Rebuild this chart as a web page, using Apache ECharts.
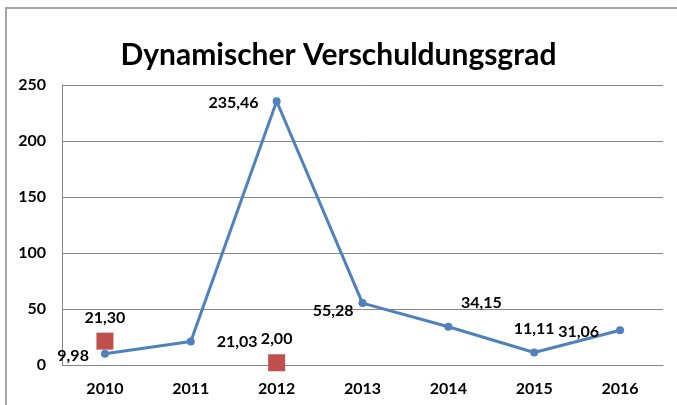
<!DOCTYPE html>
<html>
<head>
<meta charset="utf-8">
<script src="https://cdn.jsdelivr.net/npm/echarts@6/dist/echarts.min.js"></script>
<style>
    html, body { margin: 0; padding: 0; background: #fff; }
    #main { width: 677px; height: 405px; }
</style>
</head>
<body>
<div id="main"></div>
<script>
const YEARS = ['2010', '2011', '2012', '2013', '2014', '2015', '2016'];
const DEBT_RATIO = [9.98, 21.03, 235.46, 55.28, 34.15, 11.11, 31.06];
const EXTRA_YEARS = ['2010', '2012'];
const EXTRA_VALUES = [21.30, 2.00];

// label placement per point (like the excel chart, labels were dragged by hand)
const LABEL_PLACES = [
    {position: 'left', distance: 12, offset: [0, 2]},
    {position: 'right', distance: 22, offset: [0, 0]},
    {position: 'left', distance: 14, offset: [0, 2]},
    {position: 'left', distance: 5, offset: [0, 8]},
    {position: 'top', distance: 5, offset: [33, -7]},
    {position: 'top', distance: 5, offset: [0, -7]},
    {position: 'left', distance: 17, offset: [0, 2]},
];

const FONT = 'Lato, "Open Sans", sans-serif';

function deNumber(v) {
    return v.toFixed(2).replace('.', ',');
}

initChart();

function initChart() {
    let chartDom = document.getElementById('main');
    let myChart = echarts.init(chartDom, null, {renderer: 'canvas'});
    let option;

    let lineData = DEBT_RATIO.map((v, i) => ({
        value: v,
        label: LABEL_PLACES[i],
    }));

    option = {
        animation: false,
        backgroundColor: '#fff',
        title: {
            text: 'Dynamischer Verschuldungsgrad',
            left: 'center',
            top: 35,
            textStyle: {
                fontFamily: FONT,
                fontWeight: 'bold',
                fontSize: 30,
                color: '#000',
            },
        },
        graphic: [{
            type: 'rect',
            shape: {x: 6, y: 8, width: 720, height: 450},
            style: {fill: 'none', stroke: '#a6a6a6', lineWidth: 2},
            silent: true,
        }],
        grid: {
            left: 62,
            right: 14,
            top: 85,
            bottom: 40,
        },
        xAxis: {
            type: 'category',
            data: YEARS,
            axisLine: {lineStyle: {color: '#868686', width: 1}},
            axisTick: {show: false},
            axisLabel: {
                color: '#000',
                fontFamily: FONT,
                fontWeight: 'bold',
                fontSize: 16,
                margin: 16,
            },
        },
        yAxis: {
            type: 'value',
            min: 0,
            max: 250,
            interval: 50,
            axisLine: {show: true, lineStyle: {color: '#868686', width: 1}},
            axisTick: {show: false},
            splitLine: {lineStyle: {color: '#868686', width: 1}},
            axisLabel: {
                color: '#000',
                fontFamily: FONT,
                fontWeight: 'bold',
                fontSize: 16,
                margin: 16,
            },
        },
        series: [
            {
                type: 'line',
                data: lineData,
                symbol: 'circle',
                symbolSize: 8,
                itemStyle: {color: '#4f81bd'},
                lineStyle: {color: '#4f81bd', width: 3},
                label: {
                    show: true,
                    color: '#000',
                    fontFamily: FONT,
                    fontWeight: 'bold',
                    fontSize: 16,
                    formatter: (p) => deNumber(p.value),
                },
            },
            {
                type: 'scatter',
                data: EXTRA_YEARS.map((y, i) => [y, EXTRA_VALUES[i]]),
                symbol: 'rect',
                symbolSize: 17,
                itemStyle: {color: '#c0504d', opacity: 1},
                label: {
                    show: true,
                    position: 'top',
                    distance: 7,
                    color: '#000',
                    fontFamily: FONT,
                    fontWeight: 'bold',
                    fontSize: 16,
                    formatter: (p) => deNumber(p.value[1]),
                },
            },
        ],
    };

    option && myChart.setOption(option);
}
</script>
</body>
</html>
